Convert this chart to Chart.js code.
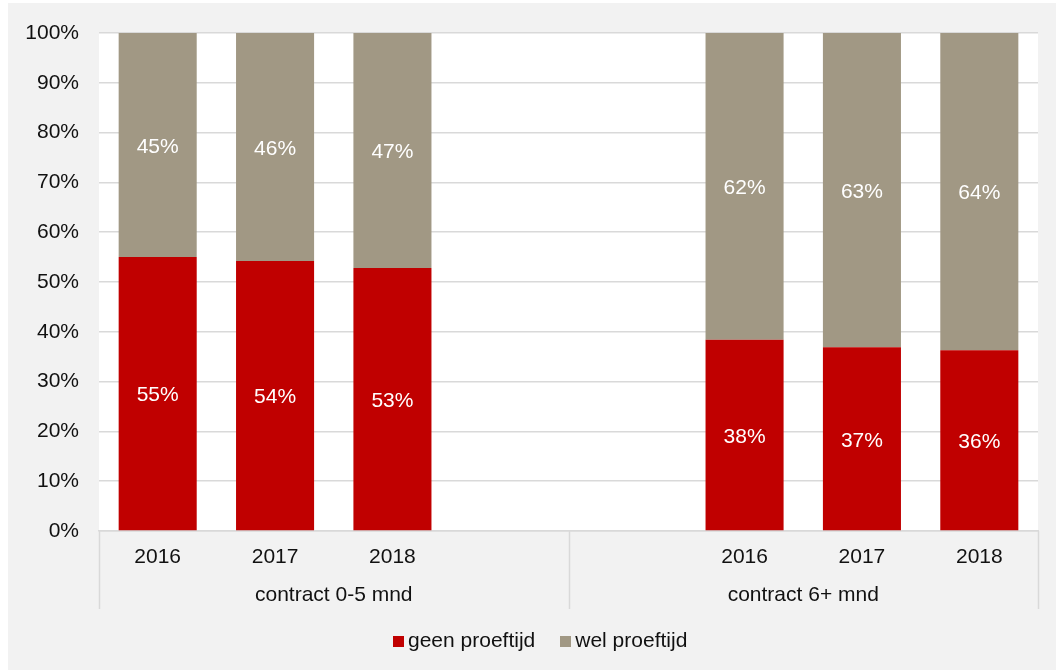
<!DOCTYPE html>
<html>
<head>
<meta charset="utf-8">
<script src="https://cdn.jsdelivr.net/npm/chart.js@4"></script>
<style>
  html, body { margin: 0; padding: 0; background: #fff; }
  #wrap { position: absolute; left: 8px; top: 3px; width: 1048px; height: 667px; background: #f2f2f2; }
  #legend { position: absolute; left: 393px; top: 628px; height: 24px; display: flex; align-items: center;
            font: 21px "Liberation Sans", Arial, sans-serif; color: #111; white-space: nowrap; }
  #legend .box { display: inline-block; width: 11px; height: 11px; margin-right: 4px; margin-top: 3px; }
  #legend .item { display: flex; align-items: center; margin-right: 25px; }
</style>
</head>
<body>
<div id="wrap"><canvas id="chart"></canvas></div>
<div id="legend"></div>
<script>
// ==== data ====
const years = ['2016', '2017', '2018', '', '', '2016', '2017', '2018'];
const groups = ['contract 0-5 mnd', 'contract 6+ mnd'];
const geenProeftijd = [55.0, 54.2, 52.8, null, null, 38.4, 36.9, 36.3];
const welProeftijd = [45.0, 45.8, 47.2, null, null, 61.6, 63.1, 63.7];
const seriesNames = ['geen proeftijd', 'wel proeftijd'];
const seriesColors = ['#c00000', '#a19884'];
const yTicks = [0, 10, 20, 30, 40, 50, 60, 70, 80, 90, 100];

const FONT = { family: '"Liberation Sans", Arial, sans-serif', size: 21 };
const TEXT = '#111';
const GRID = '#d9d9d9';

// white plot area
const plotBg = {
  id: 'plotBg',
  beforeDraw(chart) {
    const { ctx, chartArea: a } = chart;
    ctx.save();
    ctx.fillStyle = '#fff';
    ctx.fillRect(a.left, a.top, a.right - a.left, a.bottom - a.top);
    ctx.restore();
  }
};

// value labels inside each segment
const barLabels = {
  id: 'barLabels',
  afterDatasetsDraw(chart) {
    const ctx = chart.ctx;
    ctx.save();
    ctx.fillStyle = '#fff';
    ctx.font = FONT.size + 'px ' + FONT.family;
    ctx.textAlign = 'center';
    ctx.textBaseline = 'middle';
    chart.data.datasets.forEach((ds, i) => {
      chart.getDatasetMeta(i).data.forEach((bar, j) => {
        const v = ds.data[j];
        if (v == null) return;
        // +2: canvas "middle" sits a bit high for digits
        ctx.fillText(Math.round(v) + '%', bar.x, (bar.y + bar.base) / 2 + 2);
      });
    });
    ctx.restore();
  }
};

// vertical separators of the two-level category axis
const groupLines = {
  id: 'groupLines',
  afterDraw(chart) {
    const ctx = chart.ctx;
    const g = chart.scales.x2;
    const top = chart.chartArea.bottom;
    const bottom = g.bottom - 12;
    ctx.save();
    ctx.strokeStyle = GRID;
    ctx.lineWidth = 1.5;
    [-0.5, 0.5, 1.5].forEach(v => {
      const x = Math.round(g.getPixelForValue(v)) + 0.5;
      ctx.beginPath();
      ctx.moveTo(x, top);
      ctx.lineTo(x, bottom);
      ctx.stroke();
    });
    ctx.restore();
  }
};

const chart = new Chart(document.getElementById('chart'), {
  type: 'bar',
  data: {
    labels: years,
    datasets: seriesNames.map((name, i) => ({
      label: name,
      data: i === 0 ? geenProeftijd : welProeftijd,
      backgroundColor: seriesColors[i]
    }))
  },
  options: {
    responsive: true,
    maintainAspectRatio: false,
    devicePixelRatio: 1,
    animation: false,
    layout: { padding: { left: 0, right: 18, top: 30, bottom: 49 } },
    datasets: { bar: { categoryPercentage: 1, barPercentage: 0.665 } },
    plugins: {
      tooltip: { enabled: false },
      legend: { display: false }
    },
    scales: {
      x: {
        stacked: true,
        grid: { display: false, drawTicks: false },
        border: { display: true, color: GRID, width: 1.5 },
        ticks: { color: TEXT, font: FONT, padding: 14, maxRotation: 0, autoSkip: false },
        afterFit(s) { s.height = 44; }
      },
      x2: {
        type: 'category',
        labels: groups,
        position: 'bottom',
        offset: true,
        grid: { display: false, drawTicks: false },
        border: { display: false },
        ticks: { color: TEXT, font: FONT, padding: 8, maxRotation: 0 },
        afterFit(s) { s.height = 46; }
      },
      y: {
        stacked: true,
        min: 0,
        max: 100,
        afterBuildTicks(s) { s.ticks = yTicks.map(v => ({ value: v })); },
        grid: { color: GRID, lineWidth: 1.5, drawTicks: false },
        border: { display: false },
        ticks: { color: TEXT, font: FONT, padding: 20, callback: v => v + '%' },
        afterFit(s) { s.width = 91; s.paddingTop = 0; s.paddingBottom = 0; }
      }
    }
  },
  plugins: [plotBg, barLabels, groupLines]
});

// legend as text, built from the datasets
const legendEl = document.getElementById('legend');
legendEl.innerHTML = chart.data.datasets.map(ds =>
  `<span class="item"><span class="box" style="background:${ds.backgroundColor}"></span>${ds.label}</span>`
).join('');
</script>
</body>
</html>
